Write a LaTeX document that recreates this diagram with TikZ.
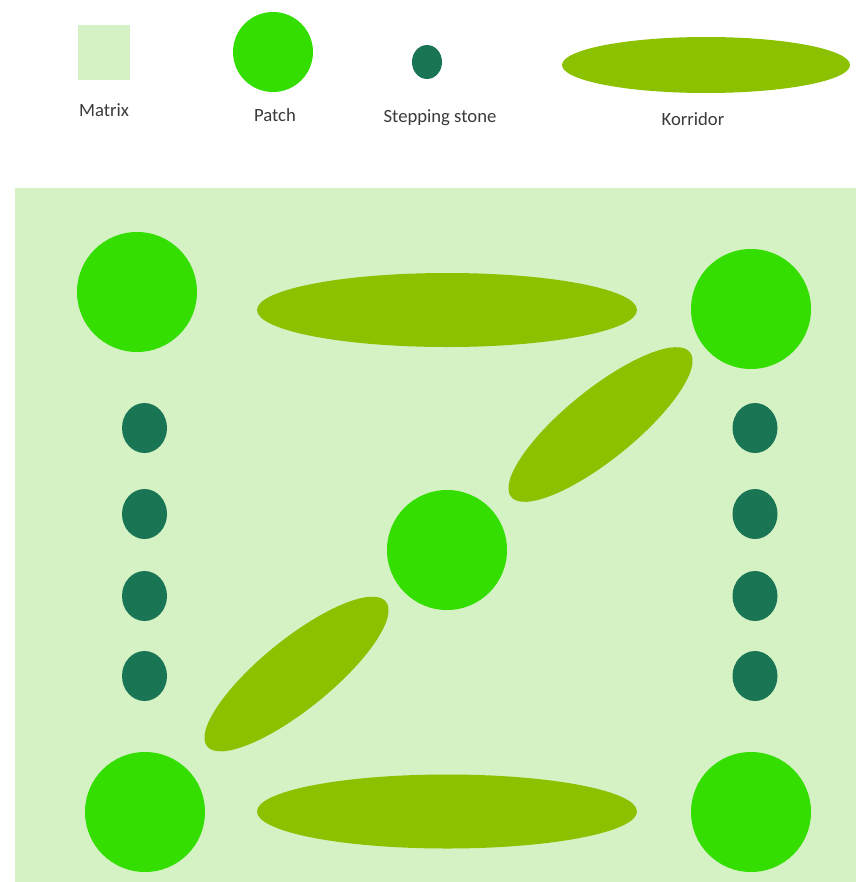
\documentclass[tikz,border=0pt]{standalone}
\usepackage{fontspec}
\setmainfont{Carlito}
\usepackage{tikz}
\usetikzlibrary{positioning}
\definecolor{matrixgreen}{HTML}{D4F2C4}
\definecolor{patchgreen}{HTML}{34DE00}
\definecolor{stonegreen}{HTML}{197553}
\definecolor{corrgreen}{HTML}{8CC100}
\definecolor{labelgray}{HTML}{3A3A3A}

\tikzset{
  lbl/.style={text=labelgray, anchor=base, inner sep=0pt,
    font=\fontsize{14}{17}\selectfont}
}

\begin{document}
\begin{tikzpicture}[x=0.75pt, y=-0.75pt]
  \useasboundingbox (0,0) rectangle (856,882);
  % legend
  \fill[matrixgreen] (78,25) rectangle (130,80);
  \fill[patchgreen] (273,52) ellipse (40 and 40);
  \fill[stonegreen] (427,62) ellipse (15 and 17);
  \fill[corrgreen] (706,65) ellipse (144 and 28);
  \node[lbl] (lmatrix) at (104,116) {Matrix};
  \node[lbl] (lpatch)  at (275,121) {Patch};
  \node[lbl] (lstone)  at (440,122) {Stepping stone};
  \node[lbl] (lkorr)   at (693,125) {Korridor};

  % landscape
  \fill[matrixgreen] (15,188) rectangle (856,882);
  \foreach \px/\py in {137/292, 751/309, 447/550, 145/812, 751/812}
    \fill[patchgreen] (\px,\py) circle (60);
  \foreach \sy in {428, 514, 596, 676} {
    \fill[stonegreen] (144.5,\sy) ellipse (22.5 and 25);
    \fill[stonegreen] (755,\sy) ellipse (22.5 and 25);
  }
  \fill[corrgreen] (447,310) ellipse (190 and 37);
  \fill[corrgreen] (447,811.5) ellipse (190 and 37);
  \fill[corrgreen, rotate around={39:(600.5,424.5)}] (600.5,424.5) ellipse (115 and 35);
  \fill[corrgreen, rotate around={39:(296.5,674)}] (296.5,674) ellipse (115 and 35);
\end{tikzpicture}
\end{document}
